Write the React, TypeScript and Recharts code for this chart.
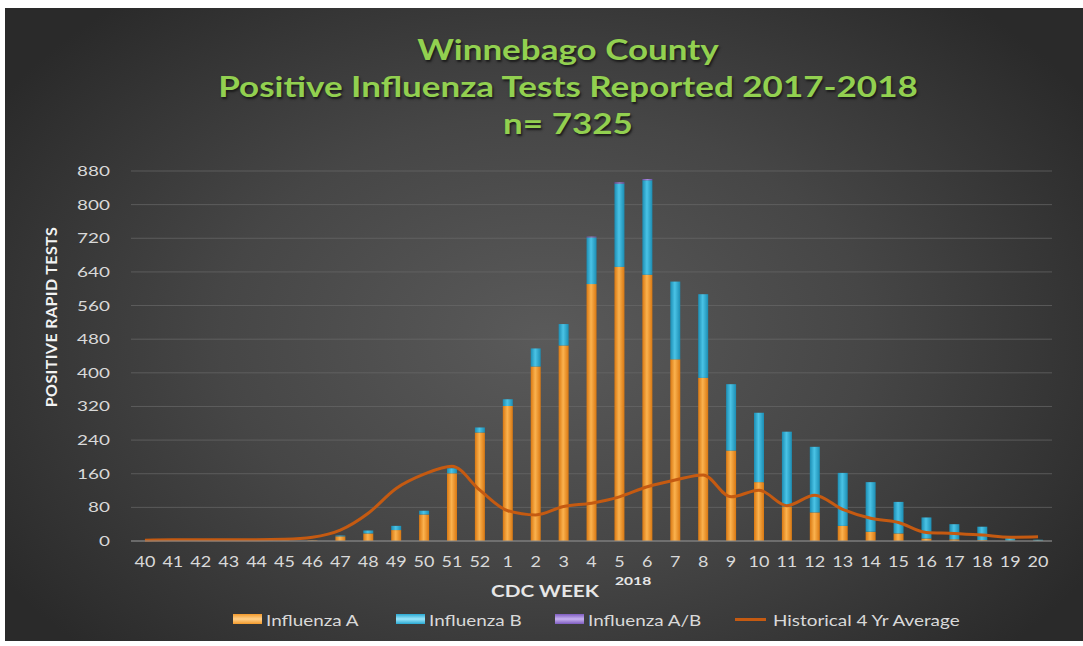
import React from 'react';
import { ComposedChart, Bar, Line, XAxis, YAxis, CartesianGrid } from 'recharts';

const WEEKS = ['40', '41', '42', '43', '44', '45', '46', '47', '48', '49', '50', '51', '52', '1', '2', '3', '4', '5', '6', '7', '8', '9', '10', '11', '12', '13', '14', '15', '16', '17', '18', '19', '20'];
const FLU_A = [0, 0, 0, 0, 0, 1, 1, 11, 18, 26, 63, 161, 258, 321, 415, 465, 611, 652, 633, 432, 388, 215, 140, 82, 68, 36, 22, 18, 6, 4, 2, 1, 1];
const FLU_B = [0, 0, 0, 0, 0, 0, 0, 2, 7, 10, 9, 12, 12, 16, 43, 51, 111, 198, 225, 185, 199, 158, 165, 178, 156, 126, 118, 75, 50, 36, 32, 7, 2];
const FLU_AB = [0, 0, 0, 0, 0, 0, 0, 0, 0, 0, 0, 0, 0, 0, 0, 0, 2, 3, 3, 0, 0, 0, 0, 0, 0, 0, 0, 0, 0, 0, 0, 0, 0];
const HIST_AVG = [2, 3, 3, 3, 3, 4, 9, 26, 66, 125, 159, 178, 121, 72, 62, 82, 90, 105, 129, 145, 157, 105, 121, 84, 109, 75, 54, 44, 20, 18, 14, 9, 10];
const Y_TICKS = [0, 80, 160, 240, 320, 400, 480, 560, 640, 720, 800, 880];

const data = WEEKS.map((w, i) => ({ week: w, a: FLU_A[i], b: FLU_B[i], ab: FLU_AB[i], avg: HIST_AVG[i] }));

const FONT = 'Lato, sans-serif';

const LEGEND = [
  { label: 'Influenza A', color: '#f39a2c', light: '#ffd08a', kind: 'bar', x: 233 },
  { label: 'Influenza B', color: '#2aa9d2', light: '#9be6fb', kind: 'bar', x: 396 },
  { label: 'Influenza A/B', color: '#7e5cc0', light: '#c7b1f0', kind: 'bar', x: 555 },
  { label: 'Historical 4 Yr Average', color: '#c55a11', light: '#c55a11', kind: 'line', x: 735 },
];

const XTick = ({ x, y, payload }: any) => (
  <g transform={`translate(${x},${y})`}>
    <text transform="scale(1.2,1)" textAnchor="middle" dy="0.71em" fontSize={15} fill="#d9d9d9" fontFamily={FONT}>{payload.value}</text>
  </g>
);

const YTick = ({ x, y, payload }: any) => (
  <g transform={`translate(${x},${y})`}>
    <text transform="scale(1.35,1)" textAnchor="end" dy="0.355em" fontSize={14} fill="#d9d9d9" fontFamily={FONT}>{payload.value}</text>
  </g>
);

const stretch = (s: number): React.CSSProperties => ({ transform: `scaleX(${s})`, transformOrigin: 'left center', whiteSpace: 'nowrap' });

export default function App() {
  return (
    <div style={{ position: 'absolute', left: 0, top: 0, width: 1083, height: 646, background: '#fff', overflow: 'hidden' }}>
      <div style={{ position: 'absolute', left: 5, top: 8, width: 1078, height: 633, background: 'radial-gradient(ellipse 60% 70% at 50% 52%, #5a5a5a 0%, #464646 50%, #2a2a2a 100%)' }} />
      <div style={{ position: 'absolute', left: 0, top: 31, width: 1136, textAlign: 'center', fontFamily: FONT, fontWeight: 700, fontSize: 28, lineHeight: '37px', color: '#92d050', textShadow: '1px 2px 2px #1a1a1a' }}>
        {['Winnebago County', 'Positive Influenza Tests Reported 2017-2018', 'n= 7325'].map((t) => (
          <div key={t} style={{ transform: 'scaleX(1.25)' }}>{t}</div>
        ))}
      </div>
      <div style={{ position: 'absolute', left: 50, top: 317, transform: 'translate(-50%, -50%) rotate(-90deg)', whiteSpace: 'nowrap', fontFamily: FONT, fontWeight: 700, fontSize: 16, letterSpacing: 0.4, color: '#f2f2f2' }}>
        POSITIVE RAPID TESTS
      </div>
      <div style={{ position: 'absolute', left: 491, top: 580, fontFamily: FONT, fontWeight: 700, fontSize: 17, color: '#e6e6e6', ...stretch(1.22) }}>CDC WEEK</div>
      <div style={{ position: 'absolute', left: 615, top: 573, fontFamily: FONT, fontWeight: 700, fontSize: 12, color: '#e6e6e6', ...stretch(1.3) }}>2018</div>
      {LEGEND.map((l) => (
        <div key={l.label} style={{ position: 'absolute', left: l.x, top: 609, height: 20, display: 'flex', alignItems: 'center', fontFamily: FONT, fontSize: 16, color: '#d9d9d9' }}>
          {l.kind === 'bar'
            ? <span style={{ width: 29, height: 10, marginRight: 4, background: `linear-gradient(${l.color}, ${l.light} 50%, ${l.color})`, display: 'inline-block' }} />
            : <span style={{ width: 31, height: 3, marginRight: 7, background: l.color, display: 'inline-block' }} />}
          <span style={stretch(1.18)}>{l.label}</span>
        </div>
      ))}
      <div style={{ position: 'absolute', left: 0, top: 0 }}>
        <ComposedChart width={1083} height={646} data={data} margin={{ top: 171, right: 31, bottom: 75, left: 0 }}>
          <defs>
            <linearGradient id="gA" x1="0" y1="0" x2="1" y2="0">
              <stop offset="0%" stopColor="#d97812" />
              <stop offset="45%" stopColor="#fbb24e" />
              <stop offset="100%" stopColor="#d97812" />
            </linearGradient>
            <linearGradient id="gB" x1="0" y1="0" x2="1" y2="0">
              <stop offset="0%" stopColor="#1c8db3" />
              <stop offset="45%" stopColor="#4ac3e6" />
              <stop offset="100%" stopColor="#1c8db3" />
            </linearGradient>
            <linearGradient id="gAB" x1="0" y1="0" x2="1" y2="0">
              <stop offset="0%" stopColor="#6d4fa8" />
              <stop offset="50%" stopColor="#a98ae0" />
              <stop offset="100%" stopColor="#6d4fa8" />
            </linearGradient>
          </defs>
          <CartesianGrid vertical={false} stroke="#6a6a6a" strokeOpacity={0.7} />
          <XAxis dataKey="week" interval={0} tick={<XTick />} tickLine={false} axisLine={{ stroke: '#8c8c8c' }} tickMargin={9} height={30} />
          <YAxis domain={[0, 880]} ticks={Y_TICKS} width={131} tick={<YTick />} tickLine={false} axisLine={false} tickMargin={15} />
          <Bar dataKey="a" stackId="s" fill="url(#gA)" barSize={10} isAnimationActive={false} />
          <Bar dataKey="b" stackId="s" fill="url(#gB)" barSize={10} isAnimationActive={false} />
          <Bar dataKey="ab" stackId="s" fill="url(#gAB)" barSize={10} isAnimationActive={false} />
          <Line type="monotone" dataKey="avg" stroke="#c55a11" strokeWidth={3} dot={false} isAnimationActive={false} />
        </ComposedChart>
      </div>
    </div>
  );
}
